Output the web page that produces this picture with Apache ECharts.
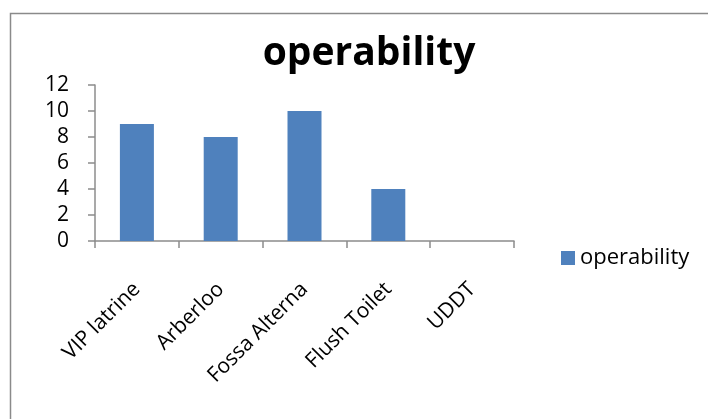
<!DOCTYPE html>
<html>
<head>
<meta charset="utf-8">
<script src="https://cdn.jsdelivr.net/npm/echarts@6/dist/echarts.min.js"></script>
<style>
  html, body { margin: 0; padding: 0; background: #fff; }
  #chart { width: 708px; height: 419px; }
</style>
</head>
<body>
<div id="chart"></div>
<script>
// Sanitation technologies and their operability count
const categories = ['VIP latrine', 'Arberloo', 'Fossa Alterna', 'Flush Toilet', 'UDDT'];
const operability = [9, 8, 10, 4, 0];
const seriesName = 'operability';
const yTicks = { min: 0, max: 12, step: 2 };

const FONT = '"Open Sans", "Noto Sans", sans-serif';
const AXIS_GREY = '#8c8c8c';
const chart = echarts.init(document.getElementById('chart'), null, { renderer: 'canvas' });

chart.setOption({
  animation: false,
  backgroundColor: '#ffffff',
  graphic: [{
    type: 'rect',
    shape: { x: 10.5, y: 13.5, width: 760, height: 460 },
    style: { fill: 'none', stroke: '#8a8a8a', lineWidth: 1.5 },
    silent: true
  }],
  title: {
    text: 'operability',
    left: 364,
    textAlign: 'center',
    top: 29,
    textStyle: { fontFamily: FONT, fontWeight: 'bold', fontSize: 39, color: '#000' }
  },
  legend: {
    data: [seriesName],
    left: 556,
    top: 242,
    icon: 'rect',
    itemWidth: 14,
    itemHeight: 14,
    textStyle: { fontFamily: FONT, fontSize: 22, color: '#000' }
  },
  grid: { left: 95, right: 194, top: 85, bottom: 178, containLabel: false },
  xAxis: {
    type: 'category',
    data: categories,
    axisLine: { lineStyle: { color: AXIS_GREY, width: 1.5 } },
    axisTick: { show: true, length: 7, lineStyle: { color: AXIS_GREY, width: 1.5 } },
    axisLabel: {
      rotate: 45,
      margin: 45,
      interval: 0,
      fontFamily: FONT,
      fontSize: 21,
      color: '#000'
    }
  },
  yAxis: {
    type: 'value',
    min: yTicks.min,
    max: yTicks.max,
    interval: yTicks.step,
    splitLine: { show: false },
    axisLine: { show: true, lineStyle: { color: AXIS_GREY, width: 1.5 } },
    axisTick: { show: true, length: 7, lineStyle: { color: AXIS_GREY, width: 1.5 } },
    axisLabel: { margin: 26, fontFamily: FONT, fontSize: 21, color: '#000' }
  },
  series: [{
    name: seriesName,
    type: 'bar',
    data: operability,
    barWidth: 34,
    itemStyle: { color: '#4F81BD' }
  }]
});
</script>
</body>
</html>
